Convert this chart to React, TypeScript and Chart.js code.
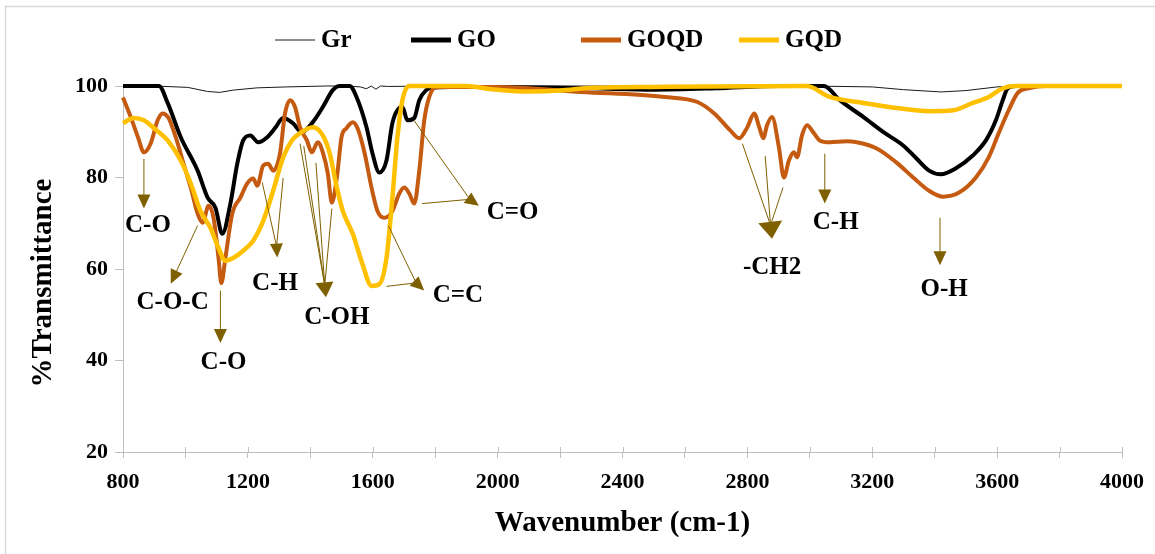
import React, { useEffect, useRef } from 'react';
import { Chart, registerables } from 'chart.js';

Chart.register(...registerables);

const FONT = '"Liberation Serif", "Times New Roman", serif';

// ---- Data (wavenumber cm-1, % transmittance) ----
const grPoints: [number, number][] = [
  [800, 100], [900, 100], [1007, 99.7], [1071, 98.8], [1110, 98.6], [1153, 99.1], [1230, 99.6],
  [1325, 99.8], [1450, 100], [1520, 100], [1560, 99.8], [1580, 99.4], [1595, 100], [1610, 99.3],
  [1625, 100], [1650, 99.9], [1800, 100], [2200, 100], [2600, 100], [3000, 100], [3200, 99.8],
  [3300, 99.2], [3420, 98.7], [3500, 99], [3600, 99.8], [3650, 100], [4000, 100],
];

const goPoints: [number, number][] = [
  [800, 100], [915, 100], [943, 96.3], [985, 88.8], [1039, 81.5], [1071, 75.6], [1096, 73.4],
  [1118, 67.7], [1144, 74.3], [1166, 83], [1185, 88.1], [1208, 89.2], [1233, 87.7], [1262, 88.8],
  [1287, 90.8], [1313, 93], [1344, 91.9], [1373, 89.9], [1408, 92.1], [1440, 95.4], [1472, 99.1],
  [1494, 100], [1526, 100], [1548, 97.6], [1580, 91], [1599, 85.3], [1621, 81.1], [1644, 83.7],
  [1663, 91.9], [1685, 95.2], [1695, 95.4], [1711, 92.5], [1733, 93], [1749, 96.9], [1771, 99.1],
  [1790, 99.6], [1850, 99.8], [2000, 99.8], [2300, 99.5], [2500, 99.2], [2700, 99.5], [2900, 100],
  [3045, 100], [3096, 96.9], [3172, 93.2], [3236, 89.9], [3299, 87], [3341, 84.2], [3382, 81.5],
  [3420, 80.7], [3468, 82], [3522, 84.8], [3564, 88.1], [3596, 92.5], [3618, 96.9], [3634, 99.5],
  [3660, 100], [4000, 100],
];

const goqdPoints: [number, number][] = [
  [800, 97.5], [825, 93.2], [848, 88.8], [867, 85.5], [889, 87.5], [911, 92.5], [927, 94],
  [946, 93], [969, 88.8], [994, 83], [1017, 77.8], [1039, 72.1], [1055, 70.1], [1074, 73.8],
  [1090, 71.2], [1106, 62.4], [1115, 56.9], [1128, 62.4], [1150, 72.1], [1176, 75.6], [1198, 78.7],
  [1217, 79.8], [1230, 78.2], [1249, 82.6], [1265, 83], [1281, 81.5], [1303, 85.3], [1319, 94],
  [1335, 96.9], [1351, 95.4], [1367, 91], [1389, 88.1], [1405, 85.5], [1424, 87.7], [1440, 85.5],
  [1456, 80.9], [1469, 74.5], [1485, 80], [1500, 88.8], [1516, 90.8], [1536, 92.1], [1551, 90.8],
  [1574, 85.3], [1596, 77.8], [1615, 72.7], [1637, 71.2], [1663, 72.7], [1685, 76.5], [1701, 77.8],
  [1717, 76.5], [1733, 74.3], [1749, 81.5], [1765, 92.5], [1781, 97.6], [1803, 99.8], [1900, 99.8],
  [2004, 99.8], [2268, 98.7], [2535, 97.6], [2640, 96.5], [2694, 94], [2745, 90.3], [2774, 88.6],
  [2800, 91], [2822, 94], [2838, 91], [2851, 88.6], [2863, 91.4], [2879, 93.2], [2901, 86.6],
  [2917, 80], [2933, 83.7], [2949, 85.5], [2959, 84.4], [2975, 89.2], [2991, 91.4], [3013, 89.7],
  [3032, 88.1], [3064, 87.7], [3118, 87.9], [3150, 87.7], [3213, 86.4], [3277, 83.3], [3331, 80],
  [3382, 77.1], [3427, 75.8], [3478, 76.7], [3532, 80], [3573, 84.4], [3605, 89.7], [3637, 94.7],
  [3666, 98.5], [3701, 99.5], [3755, 100], [4000, 100],
];

const gqdPoints: [number, number][] = [
  [800, 91.9], [835, 93], [867, 92.5], [899, 90.8], [943, 88.1], [985, 83.7], [1017, 78.7],
  [1048, 72.7], [1080, 69], [1106, 64.6], [1128, 61.8], [1153, 62.4], [1185, 64], [1217, 66.2],
  [1249, 70.5], [1281, 77.1], [1313, 84.4], [1341, 88.1], [1367, 89.7], [1408, 91], [1440, 89.2],
  [1462, 85.3], [1485, 77.8], [1504, 72.7], [1536, 67.7], [1567, 61.1], [1596, 56.3], [1621, 56.7],
  [1644, 62.4], [1663, 75.6], [1679, 88.8], [1695, 96.9], [1717, 100], [1900, 100], [1980, 99.3],
  [2100, 98.8], [2200, 99], [2300, 99.6], [2500, 99.8], [2990, 100], [3064, 97.6], [3172, 96.3],
  [3277, 95.2], [3382, 94.5], [3459, 94.7], [3522, 96.3], [3573, 97.6], [3618, 99.5], [3659, 100],
  [4000, 100],
];

const seriesNames = ['Gr', 'GO', 'GOQD', 'GQD'];
const seriesColors = ['#1a1a1a', '#000000', '#C55A11', '#FFC000'];
const seriesWidths = [1, 4, 4, 4.5];
const seriesPoints = [grPoints, goPoints, goqdPoints, gqdPoints];

const xTicks = { min: 800, max: 4000, step: 200, labelEvery: 400 };
const yTicks = { min: 20, max: 100, step: 20 };

// Peak annotations (data coordinates): label, label position, arrow starts, arrow tip
type Ann = { label: string; at: [number, number]; from: [number, number][]; tip: [number, number]; head?: [number, number] };
const annotations: Ann[] = [
  { label: 'C-O', at: [880, 69.7], from: [[867, 84.1]], tip: [867, 73.2] },
  { label: 'C-O-C', at: [959, 52.9], from: [[1039, 69.5]], tip: [953, 56.8] },
  { label: 'C-O', at: [1122, 39.8], from: [[1112, 55.3]], tip: [1112, 43.8] },
  { label: 'C-H', at: [1287, 57.1], from: [[1246, 78.9], [1313, 79.9]], tip: [1294, 62.5] },
  { label: 'C-OH', at: [1485, 49.6], from: [[1367, 87.4], [1379, 86.9], [1418, 83.2], [1469, 73.2]], tip: [1450, 53.8], head: [15, 18] },
  { label: 'C=C', at: [1873, 54.4], from: [[1650, 69.5], [1644, 56.2]], tip: [1765, 55.3] },
  { label: 'C=O', at: [2048, 72.5], from: [[1733, 92.4], [1758, 74.3]], tip: [1940, 73.8] },
  { label: '-CH2', at: [2879, 60.5], from: [[2784, 87.4], [2857, 84.7], [2914, 77.8]], tip: [2879, 66.6], head: [17, 24] },
  { label: 'C-H', at: [3083, 70.4], from: [[3048, 85.2]], tip: [3048, 74.3] },
  { label: 'O-H', at: [3430, 55.7], from: [[3417, 71.2]], tip: [3417, 60.8] },
];

const ARROW = '#7F6000';

const backgroundPlugin = {
  id: 'bg',
  beforeDraw(chart: any) {
    const { ctx, width, height } = chart;
    ctx.save();
    ctx.fillStyle = '#ffffff';
    ctx.fillRect(0, 0, width, height);
    ctx.strokeStyle = '#d9d9d9';
    ctx.lineWidth = 1.5;
    ctx.strokeRect(5.5, 6.5, width + 10, height + 10);
    ctx.restore();
  },
};

const crossTickPlugin = {
  id: 'crossTicks',
  afterDraw(chart: any) {
    const { ctx } = chart;
    const xs = chart.scales.x;
    ctx.save();
    ctx.strokeStyle = '#bfbfbf';
    ctx.lineWidth = 1;
    xs.ticks.forEach((t: any) => {
      const px = Math.round(xs.getPixelForValue(t.value)) + 0.5;
      ctx.beginPath();
      ctx.moveTo(px, xs.top - 5);
      ctx.lineTo(px, xs.top);
      ctx.stroke();
    });
    ctx.restore();
  },
};

const legendPlugin = {
  id: 'customLegend',
  afterDraw(chart: any) {
    const { ctx } = chart;
    const starts = [275, 411, 581, 739];
    const y = 40;
    ctx.save();
    ctx.font = `bold 25px ${FONT}`;
    ctx.textBaseline = 'middle';
    ctx.textAlign = 'left';
    chart.data.datasets.forEach((ds: any, i: number) => {
      const x0 = starts[i];
      ctx.strokeStyle = ds.borderColor;
      ctx.lineWidth = ds.borderWidth === 1 ? 1 : 5;
      ctx.lineCap = 'butt';
      ctx.beginPath();
      ctx.moveTo(x0, y);
      ctx.lineTo(x0 + 40, y);
      ctx.stroke();
      ctx.fillStyle = '#000';
      ctx.fillText(ds.label, x0 + 46, y + 1);
    });
    ctx.restore();
  },
};

const yTitlePlugin = {
  id: 'yTitle',
  afterDraw(chart: any) {
    const { ctx } = chart;
    ctx.save();
    ctx.translate(44, 283);
    ctx.rotate(-Math.PI / 2);
    ctx.font = `bold 29px ${FONT}`;
    ctx.fillStyle = '#000';
    ctx.textAlign = 'center';
    ctx.textBaseline = 'middle';
    ctx.fillText('%Transmittance', 0, 0);
    ctx.restore();
  },
};

const annotationPlugin = {
  id: 'peakLabels',
  afterDatasetsDraw(chart: any) {
    const { ctx } = chart;
    const xs = chart.scales.x;
    const ys = chart.scales.y;
    const P = (p: [number, number]) => [xs.getPixelForValue(p[0]), ys.getPixelForValue(p[1])];
    ctx.save();
    annotations.forEach((a) => {
      const [tx, ty] = P(a.tip);
      const [hl, hw] = a.head || [14, 13];
      const starts = a.from.map(P);
      const mx = starts.reduce((s, p) => s + p[0], 0) / starts.length;
      const my = starts.reduce((s, p) => s + p[1], 0) / starts.length;
      let dx = tx - mx;
      let dy = ty - my;
      const len = Math.hypot(dx, dy) || 1;
      dx /= len;
      dy /= len;
      const bx = tx - dx * hl;
      const by = ty - dy * hl;
      ctx.strokeStyle = ARROW;
      ctx.lineWidth = 1;
      starts.forEach(([sx, sy]) => {
        ctx.beginPath();
        ctx.moveTo(sx, sy);
        ctx.lineTo(bx + (tx - bx) * 0.2, by + (ty - by) * 0.2);
        ctx.stroke();
      });
      ctx.fillStyle = ARROW;
      ctx.beginPath();
      ctx.moveTo(tx, ty);
      ctx.lineTo(bx - dy * hw / 2, by + dx * hw / 2);
      ctx.lineTo(bx + dy * hw / 2, by - dx * hw / 2);
      ctx.closePath();
      ctx.fill();
      const [lx, ly] = P(a.at);
      ctx.font = `bold 25px ${FONT}`;
      ctx.fillStyle = '#000';
      ctx.textAlign = 'center';
      ctx.textBaseline = 'middle';
      ctx.fillText(a.label, lx, ly + 1);
    });
    ctx.restore();
  },
};

export default function App() {
  const ref = useRef<HTMLCanvasElement>(null);

  useEffect(() => {
    if (!ref.current) return;
    const datasets = seriesNames.map((name, i) => ({
      label: name,
      data: seriesPoints[i].map(([x, y]) => ({ x, y })),
      borderColor: seriesColors[i],
      backgroundColor: seriesColors[i],
      borderWidth: seriesWidths[i],
      pointRadius: 0,
      fill: false,
      cubicInterpolationMode: i === 0 ? 'default' : 'monotone',
      tension: i === 0 ? 0 : 0.4,
      order: seriesNames.length - 1 - i,
      clip: false,
    }));

    const chart = new Chart(ref.current, {
      type: 'line',
      data: { datasets } as any,
      plugins: [backgroundPlugin, annotationPlugin, crossTickPlugin, legendPlugin, yTitlePlugin],
      options: {
        animation: false,
        responsive: false,
        devicePixelRatio: 1,
        layout: { padding: { left: 0, right: 28, top: 86, bottom: 0 }, autoPadding: false } as any,
        plugins: { legend: { display: false }, tooltip: { enabled: false } },
        scales: {
          x: {
            type: 'linear',
            min: xTicks.min,
            max: xTicks.max,
            afterFit: (s: any) => { s.height = 102; },
            ticks: {
              stepSize: xTicks.step,
              autoSkip: false,
              maxRotation: 0,
              padding: 11,
              color: '#000',
              font: { family: FONT, size: 22, weight: 'bold' },
              callback: (v: any) => (Number(v) % xTicks.labelEvery === 0 ? String(v) : ''),
            },
            grid: { drawOnChartArea: false, color: '#bfbfbf', tickLength: 6 },
            border: { color: '#bfbfbf', width: 1 },
            title: {
              display: true,
              text: 'Wavenumber (cm-1)',
              color: '#000',
              font: { family: FONT, size: 29, weight: 'bold' },
              padding: { top: 0, bottom: 13 },
            },
          },
          y: {
            type: 'linear',
            min: yTicks.min,
            max: yTicks.max,
            afterFit: (s: any) => { s.width = 123; },
            ticks: {
              stepSize: yTicks.step,
              padding: 7,
              color: '#000',
              font: { family: FONT, size: 22, weight: 'bold' },
            },
            grid: { drawOnChartArea: false, color: '#bfbfbf', tickLength: 8 },
            border: { color: '#bfbfbf', width: 1 },
          },
        },
      } as any,
    });
    return () => chart.destroy();
  }, []);

  return (
    <div style={{ position: 'absolute', left: 0, top: 0, width: 1155, height: 554 }}>
      <canvas ref={ref} width={1155} height={554} style={{ display: 'block', width: 1155, height: 554 }} />
    </div>
  );
}
